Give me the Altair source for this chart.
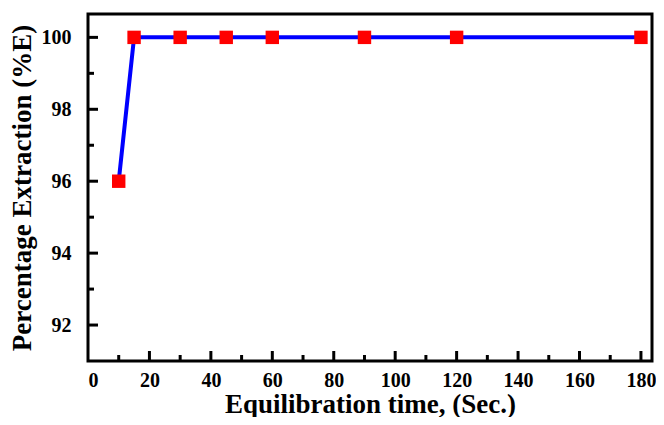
import altair as alt
import pandas as pd

time_sec = [10, 15, 30, 45, 60, 90, 120, 180]
extraction = [96, 100, 100, 100, 100, 100, 100, 100]

x_major = [20, 40, 60, 80, 100, 120, 140, 160, 180]
x_minor = [10, 30, 50, 70, 90, 110, 130, 150, 170]
y_major = [92, 94, 96, 98, 100]
y_minor = [93, 95, 97, 99]
x_labels = [0, 20, 40, 60, 80, 100, 120, 140, 160, 180]

W, H = 564, 347
FONT = "Times New Roman, Liberation Serif, serif"

df = pd.DataFrame({"t": time_sec, "e": extraction})
xs = alt.Scale(domain=[0, 183.6], nice=False, zero=False)
ys = alt.Scale(domain=[91, 100.65], nice=False, zero=False)

x_axis = alt.Axis(
    title="Equilibration time, (Sec.)", values=x_labels, ticks=False, tickSize=0,
    labelPadding=9, titlePadding=1, titleFontSize=27, domain=False, grid=False)
y_axis = alt.Axis(
    title="Percentage Extraction (%E)", values=y_major, ticks=False, tickSize=0,
    labelPadding=17, titlePadding=5, titleFontSize=27, domain=False, grid=False)

base = alt.Chart(df)

line = base.mark_line(color="#0000FF", strokeWidth=4).encode(
    x=alt.X("t:Q", scale=xs, axis=x_axis),
    y=alt.Y("e:Q", scale=ys, axis=y_axis),
)
pts = base.mark_square(color="#FF0000", size=180, opacity=1).encode(
    x=alt.X("t:Q", scale=xs, axis=x_axis),
    y=alt.Y("e:Q", scale=ys, axis=y_axis),
)

def xticks(vals, length):
    d = pd.DataFrame({"v": vals})
    return alt.Chart(d).mark_rule(color="black", strokeWidth=3).encode(
        x=alt.X("v:Q", scale=xs, axis=x_axis),
        y=alt.value(H), y2=alt.value(H - length))

def yticks(vals, length):
    d = pd.DataFrame({"v": vals})
    return alt.Chart(d).mark_rule(color="black", strokeWidth=3).encode(
        y=alt.Y("v:Q", scale=ys, axis=y_axis),
        x=alt.value(0), x2=alt.value(length))

chart = alt.layer(
    line,
    xticks(x_major, 10), xticks(x_minor, 6),
    yticks(y_major, 10), yticks(y_minor, 6),
    pts,
).properties(
    width=W, height=H, autosize="none",
    padding={"left": 80, "top": 6, "right": 4, "bottom": 56},
).configure_view(
    stroke="black", strokeWidth=3
).configure_axis(
    labelFont=FONT, labelFontWeight="bold", labelFontSize=20, labelColor="black",
    titleFont=FONT, titleFontWeight="bold", titleColor="black",
)

chart.save("out.html", embed_options={"renderer": "svg", "actions": False})
